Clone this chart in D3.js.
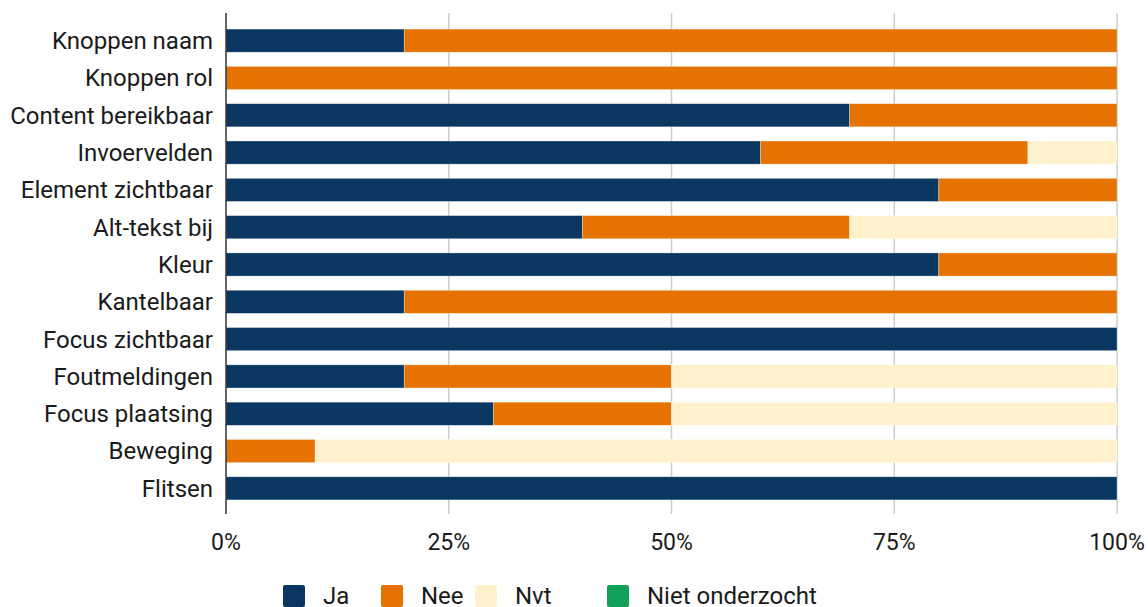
<!DOCTYPE html>
<html>
<head>
<meta charset="utf-8">
<script src="https://cdn.jsdelivr.net/npm/d3@7.9.0/dist/d3.min.js"></script>
<style>
  body { margin: 0; background: #fff; }
  svg { font-family: Roboto, sans-serif; }
</style>
</head>
<body>
<svg width="1148" height="607"></svg>
<script>
const categories = ['Knoppen naam', 'Knoppen rol', 'Content bereikbaar', 'Invoervelden',
  'Element zichtbaar', 'Alt-tekst bij', 'Kleur', 'Kantelbaar', 'Focus zichtbaar',
  'Foutmeldingen', 'Focus plaatsing', 'Beweging', 'Flitsen'];
const ja  = [20, 0, 70, 60, 80, 40, 80, 20, 100, 20, 30, 0, 100];
const nee = [80, 100, 30, 30, 20, 30, 20, 80, 0, 30, 20, 10, 0];
const nvt = [0, 0, 0, 10, 0, 30, 0, 0, 0, 50, 50, 90, 0];
const nietOnderzocht = [0, 0, 0, 0, 0, 0, 0, 0, 0, 0, 0, 0, 0];
const seriesNames = ['Ja', 'Nee', 'Nvt', 'Niet onderzocht'];
const seriesColors = ['#0a3761', '#e67300', '#fef1cc', '#13a05a'];
const xTicks = [0, 25, 50, 75, 100];

const rows = categories.map((c, i) => ({
  cat: c, 'Ja': ja[i], 'Nee': nee[i], 'Nvt': nvt[i], 'Niet onderzocht': nietOnderzocht[i]
}));

const svg = d3.select('svg');
const x = d3.scaleLinear().domain([0, 100]).range([226, 1117]);
const y = d3.scaleBand().domain(categories).range([22, 507]).paddingInner(0.38).paddingOuter(0.19);
const color = d3.scaleOrdinal(seriesNames, seriesColors);

// gridlines
svg.append('g').selectAll('line').data(xTicks.slice(1)).join('line')
  .attr('x1', d => x(d)).attr('x2', d => x(d))
  .attr('y1', 13).attr('y2', 514)
  .attr('stroke', '#cccccc').attr('stroke-width', 1.5);

const stacked = d3.stack().keys(seriesNames)(rows);
svg.append('g').selectAll('g').data(stacked).join('g')
  .attr('fill', d => color(d.key))
  .selectAll('rect').data(d => d).join('rect')
  .attr('x', d => x(d[0]))
  .attr('y', d => y(d.data.cat))
  .attr('width', d => x(d[1]) - x(d[0]))
  .attr('height', y.bandwidth())
  .attr('stroke', 'rgba(255,255,255,0.5)')
  .attr('stroke-width', d => (d[1] - d[0]) > 0 ? 0.6 : 0);

// axis line
svg.append('line').attr('x1', 226).attr('x2', 226).attr('y1', 13).attr('y2', 514)
  .attr('stroke', '#333').attr('stroke-width', 1.5);

// category labels
svg.append('g').selectAll('text').data(categories).join('text')
  .attr('x', 213).attr('y', d => y(d) + y.bandwidth() / 2)
  .attr('dy', '0.35em').attr('text-anchor', 'end')
  .attr('font-size', 24).attr('fill', '#1a1a1a').text(d => d);

// x tick labels
svg.append('g').selectAll('text').data(xTicks).join('text')
  .attr('x', d => x(d)).attr('y', 542).attr('dy', '0.35em')
  .attr('text-anchor', 'middle').attr('font-size', 23).attr('fill', '#1a1a1a')
  .text(d => d + '%');

// legend
const legendX = [283, 381, 475, 607];
const leg = svg.append('g').selectAll('g').data(seriesNames).join('g')
  .attr('transform', (d, i) => `translate(${legendX[i]},585)`);
leg.append('rect').attr('width', 22).attr('height', 22).attr('rx', 2)
  .attr('fill', d => color(d));
leg.append('text').attr('x', 40).attr('y', 18.5)
  .attr('font-size', 24).attr('fill', '#1a1a1a').text(d => d);
</script>
</body>
</html>
